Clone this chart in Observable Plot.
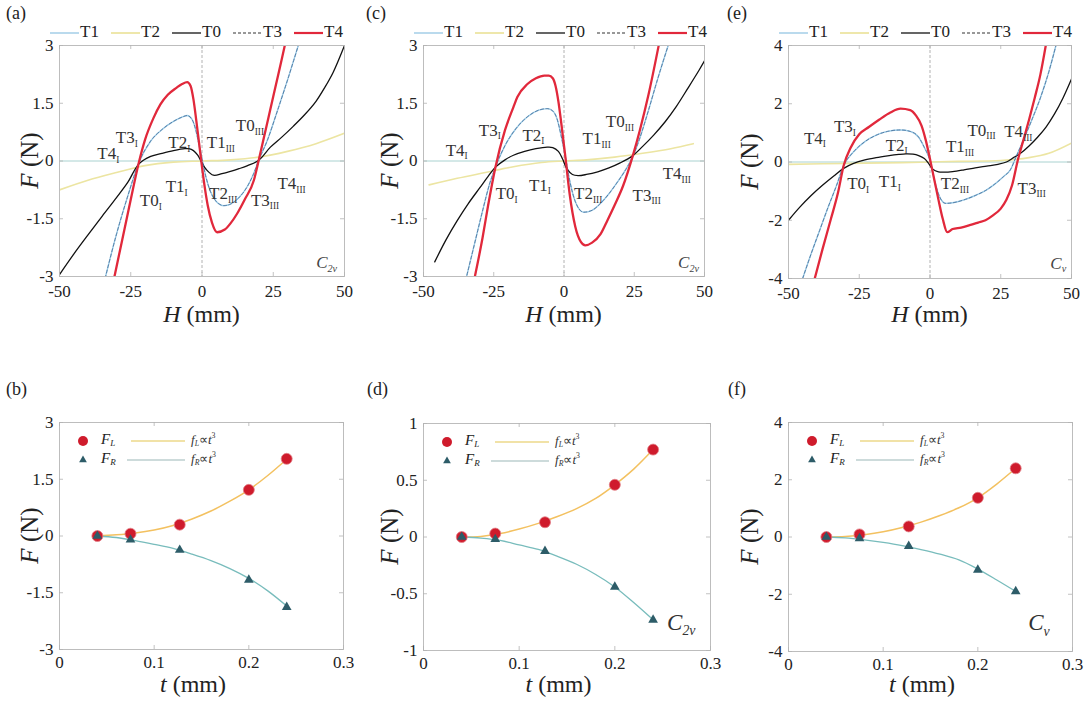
<!DOCTYPE html>
<html><head><meta charset="utf-8">
<script src="https://cdn.jsdelivr.net/npm/d3@7"></script>
<script src="https://cdn.jsdelivr.net/npm/@observablehq/plot@0.6"></script>
<style>
html,body{margin:0;padding:0;background:#fff;}
#root{position:relative;width:1087px;height:704px;overflow:hidden;background:#fff;}
.panel{position:absolute;}
.panel svg{overflow:visible;display:block;}
#overlay{position:absolute;left:0;top:0;pointer-events:none;}
</style></head><body><div id="root"></div>
<script>
// ================= DATA =================
// Top row: F (N) versus H (mm). T1 and T3 coincide (solid + dashed overlay).
const seriesNames = ["T1","T2","T0","T3","T4"];
const xTicksTop = [-50,-25,0,25,50];

// (a) C2v
const aT0H = [-50,-45,-40,-35,-30,-26,-22.2,-18,-14,-10,-6,-4.6,-3,-1.5,0,1.5,4,7,10,13,16,19.9,24,28,32,36,40,43,46,50];
const aT0F = [-2.95,-2.42,-1.92,-1.43,-0.95,-0.55,-0.08,0.12,0.2,0.27,0.32,0.32,0.27,0.15,-0.05,-0.22,-0.37,-0.33,-0.27,-0.2,-0.12,0.02,0.36,0.62,0.9,1.2,1.55,1.9,2.3,3.0];
const aT13H = [-34,-30,-26,-22.2,-18,-14,-10,-7,-5.2,-3.5,-2,-1,0,1.5,3,5,7.7,10,13,16,18,19.9,23,26,30,34];
const aT13F = [-3.05,-1.9,-0.9,-0.05,0.52,0.82,1.03,1.14,1.18,1.08,0.75,0.4,0.05,-0.45,-0.8,-1.05,-1.16,-1.12,-0.95,-0.65,-0.35,0.02,0.55,1.2,2.1,3.05];
const aT4H = [-31,-28,-25,-22.2,-20,-17,-14.6,-12,-9,-7,-5.2,-4,-3,-2,-1,0,1,2,3.5,5.3,8,10,12.3,15,18.2,19.9,22,24,26,28,29.5];
const aT4F = [-3.1,-2.05,-1.0,-0.05,0.55,1.12,1.47,1.72,1.9,2.0,2.05,1.95,1.6,1.05,0.45,-0.15,-0.7,-1.15,-1.6,-1.85,-1.78,-1.62,-1.37,-1.0,-0.5,0.02,0.7,1.35,2.0,2.65,3.15];
const aT2H = [-50,-40,-30,-20,-10,0,10,20,30,40,50];
const aT2F = [-0.75,-0.5,-0.3,-0.12,-0.03,0,0.03,0.1,0.25,0.45,0.72];

// (c) C2v
const cT0H = [-46,-42,-38,-34,-30,-27,-24.4,-21,-18,-14,-10,-6,-4,-2,-0.5,1,3,5,8,12,16,20,24.5,28,32,36,40,44,48,50];
const cT0F = [-2.62,-2.05,-1.55,-1.1,-0.7,-0.4,-0.16,0.03,0.15,0.25,0.32,0.36,0.35,0.25,0.05,-0.2,-0.35,-0.38,-0.35,-0.28,-0.18,-0.05,0.14,0.38,0.68,1.02,1.42,1.88,2.35,2.6];
const cT13H = [-35,-32,-29,-26.5,-24.4,-21,-17,-13,-9,-6,-4,-2.5,-1,0.5,2,4,7,10,13,16,19,22,24.5,27,30,33,37.3];
const cT13F = [-3.1,-2.2,-1.3,-0.6,-0.16,0.4,0.85,1.15,1.32,1.36,1.3,1.1,0.65,0.1,-0.5,-1.05,-1.33,-1.28,-1.1,-0.85,-0.55,-0.22,0.12,0.6,1.3,2.05,3.05];
const cT4H = [-32,-29,-27,-24.4,-21,-18,-16.6,-13,-10,-7,-5.4,-4,-3,-2,-1,0,0.5,2,4,6,7.6,10,13,15.4,18,21,24.5,27,30,33.7];
const cT4F = [-3.1,-2.0,-1.15,-0.16,0.8,1.4,1.66,2.0,2.15,2.22,2.22,2.15,1.95,1.55,1.0,0.4,0.1,-0.85,-1.7,-2.1,-2.19,-2.12,-1.9,-1.55,-1.15,-0.65,0.14,0.8,1.7,3.0];
const cT2H = [-48,-38,-28,-18,-8,0,8,18,28,38,46];
const cT2F = [-0.62,-0.45,-0.3,-0.15,-0.04,0,0.03,0.1,0.2,0.32,0.45];

// (e) Cv
const eT0H = [-50,-46,-42,-38,-34,-30.5,-27,-23,-19,-15,-11,-8.5,-6,-4,-2,-0.5,1,3,5,8,12,16,20,24,27,29.5,32,35,38,41,44,47,50];
const eT0F = [-2.0,-1.55,-1.15,-0.8,-0.48,-0.22,-0.05,0.07,0.15,0.21,0.26,0.28,0.27,0.22,0.12,-0.05,-0.25,-0.34,-0.35,-0.33,-0.27,-0.2,-0.14,-0.08,0.0,0.15,0.3,0.55,0.85,1.2,1.65,2.2,2.85];
const eT13H = [-45,-42,-39,-36,-33,-30.5,-27,-23,-19,-15,-10.4,-7,-4,-2,0,1.5,3,5.5,8,12,16,19.6,23,26,28.5,30.5,33,36,39,42,44.5];
const eT13F = [-4.0,-3.15,-2.35,-1.55,-0.8,-0.12,0.35,0.7,0.92,1.05,1.1,1.05,0.85,0.5,0.05,-0.6,-1.1,-1.42,-1.4,-1.3,-1.15,-0.98,-0.75,-0.5,-0.25,0.2,0.75,1.45,2.2,3.1,4.0];
const eT4H = [-41,-38,-35,-32.5,-30.5,-28,-25,-21.6,-18,-14,-10.4,-7,-5,-3,-1.5,0,1.5,3,4.5,6.1,8,11,14,17,19.6,22,25,27,29,31,33,35,37,39,41];
const eT4F = [-4.1,-3.0,-1.95,-1.05,-0.12,0.5,0.95,1.2,1.45,1.7,1.83,1.78,1.6,1.25,0.75,0.1,-0.6,-1.3,-1.95,-2.41,-2.3,-2.25,-2.17,-2.08,-2.0,-1.85,-1.6,-1.3,-0.8,0.05,0.75,1.45,2.2,3.0,4.05];
const eT2H = [-50,-30,-10,0,10,25,35,42,50];
const eT2F = [-0.08,-0.05,-0.02,0,0.02,0.05,0.15,0.3,0.65];

// equilibrium-point labels: [name, subscript, H, F]
const labA = [["T4","I",-32.7,0.14],["T3","I",-26.2,0.55],["T2","I",-7.8,0.42],["T1","III",6.8,0.42],["T0","III",17,0.86],
  ["T1","I",-8.7,-0.72],["T0","I",-17.8,-1.09],["T2","III",7.6,-0.9],["T3","III",22.3,-1.07],["T4","III",31.6,-0.64]];
const labC = [["T4","I",-38,0.23],["T3","I",-26.2,0.75],["T2","I",-10.7,0.62],["T1","III",11.8,0.53],["T0","III",20.1,0.97],
  ["T1","I",-8.4,-0.68],["T0","I",-20.2,-0.9],["T2","III",8.8,-0.9],["T3","III",29.6,-0.94],["T4","III",40.3,-0.38]];
const labE = [["T4","I",-40.5,0.74],["T3","I",-29.9,1.14],["T2","I",-11.6,0.51],["T1","III",10.8,0.45],["T0","III",18.4,1.02],
  ["T4","III",31.4,0.97],["T0","I",-25.2,-0.81],["T1","I",-14,-0.75],["T2","III",9,-0.81],["T3","III",36.1,-0.98]];

// Bottom row: F (N) versus t (mm)
const tVals = [0.04,0.075,0.127,0.2,0.24];
const bFL = [0,0.06,0.3,1.22,2.04];
const bFR = [0,-0.1,-0.37,-1.16,-1.88];
const dFL = [0,0.03,0.13,0.46,0.77];
const dFR = [0,-0.02,-0.125,-0.44,-0.73];
const fFL = [0,0.09,0.37,1.37,2.4];
const fFR = [0,-0.05,-0.32,-1.15,-1.9];
const fitT  = [0.04,0.06,0.08,0.1,0.12,0.14,0.16,0.18,0.2,0.22,0.24];
const bFitL = [0,0.03,0.08,0.16,0.28,0.45,0.66,0.92,1.22,1.6,2.03];
const bFitR = [0,-0.04,-0.12,-0.22,-0.33,-0.48,-0.65,-0.86,-1.12,-1.45,-1.85];
const dFitL = [0,0.005,0.03,0.07,0.12,0.18,0.25,0.34,0.46,0.6,0.77];
const dFitR = [0,-0.01,-0.03,-0.07,-0.11,-0.17,-0.24,-0.33,-0.44,-0.58,-0.73];
const fFitL = [0,0.02,0.08,0.18,0.33,0.52,0.75,1.02,1.37,1.85,2.4];
const fFitR = [0,-0.03,-0.1,-0.19,-0.3,-0.44,-0.6,-0.8,-1.12,-1.5,-1.9];
const xTicksBot = [0,0.1,0.2,0.3];

// ================= DRAWING =================
const SERIF = '"Liberation Serif","Times New Roman",Times,serif';
const C = {T1:"#9ccbe6", T2:"#ece5a2", T0:"#111111", T3:"#4e76a0", T4:"#e1283b", zero:"#a9d2d0",
  FL:"#cf1b2c", FR:"#2d5c68", fitL:"#f3c160", fitR:"#78bcbc", frame:"#bdbdbd", tick:"#b3b3b3", text:"#222"};
const root = document.getElementById("root");
const pts = (X, Y) => X.map((x, i) => ({x, y: Y[i]}));

function rich(sel, x, y, parts, {size = 17, anchor = "start", fill = C.text, transform = null, subShift = 0.32} = {}) {
  const t = sel.append("text").attr("x", x).attr("y", y).attr("font-size", size).attr("font-family", SERIF)
    .attr("fill", fill).attr("text-anchor", anchor).attr("dominant-baseline", "middle");
  if (transform) t.attr("transform", transform);
  let shift = 0;
  for (const p of parts) {
    const ts = t.append("tspan").text(p.t);
    const target = p.sub ? size * subShift : p.sup ? -size * 0.38 : 0;
    if (target !== shift) { ts.attr("dy", target - shift); shift = target; }
    if (p.sub || p.sup) ts.attr("font-size", size * (p.scale || 0.6));
    if (p.it) ts.attr("font-style", "italic");
  }
  return t;
}

function panel(cfg) {
  const fw = cfg.w - cfg.ml - cfg.mr, fh = cfg.h - cfg.mt - cfg.mb;
  const p = Plot.plot({
    width: cfg.w, height: cfg.h, marginLeft: cfg.ml, marginRight: cfg.mr, marginTop: cfg.mt, marginBottom: cfg.mb,
    x: {domain: cfg.xd}, y: {domain: cfg.yd},
    style: {fontFamily: SERIF, fontSize: "17px", color: C.text, background: "transparent", overflow: "visible"},
    marks: [
      ...cfg.marks,
      Plot.frame({stroke: C.frame, strokeWidth: 1}),
      Plot.ruleX(cfg.xt, {x: d => d, insetTop: fh - 4, stroke: C.tick, strokeWidth: 0.8}),
      Plot.ruleX(cfg.xt, {x: d => d, insetBottom: fh - 4, stroke: C.tick, strokeWidth: 0.8}),
      Plot.ruleY(cfg.yt, {y: d => d, insetRight: fw - 4, stroke: C.tick, strokeWidth: 0.8}),
      Plot.ruleY(cfg.yt, {y: d => d, insetLeft: fw - 4, stroke: C.tick, strokeWidth: 0.8}),
      Plot.axisX({ticks: cfg.xt, tickSize: 0, tickPadding: cfg.xpad, tickFormat: d => String(d), label: null}),
      Plot.axisY({ticks: cfg.yt, tickSize: 0, tickPadding: 6, tickFormat: d => String(d), label: null})
    ]
  });
  const div = document.createElement("div");
  div.className = "panel";
  div.style.left = cfg.left + "px"; div.style.top = cfg.top + "px"; div.style.width = cfg.w + "px";
  div.appendChild(p); root.appendChild(div);
  return {svg: d3.select(p), x: p.scale("x"), y: p.scale("y"), fw, fh, cfg};
}

function topMarks(T0H, T0F, T13H, T13F, T2H, T2F, T4H, T4F) {
  const lo = {x: "x", y: "y", curve: "monotone-x", clip: true};
  const sm = {x: "x", y: "y", curve: "catmull-rom", clip: true};
  return [
    Plot.ruleY([0], {stroke: C.zero, strokeWidth: 1}),
    Plot.ruleX([0], {stroke: "#a0a0a0", strokeWidth: 0.8, strokeDasharray: "3,2"}),
    Plot.line(pts(T2H, T2F), {...sm, stroke: C.T2, strokeWidth: 1.6}),
    Plot.line(pts(T13H, T13F), {...lo, stroke: C.T1, strokeWidth: 1.4}),
    Plot.line(pts(T0H, T0F), {...sm, stroke: C.T0, strokeWidth: 1.3}),
    Plot.line(pts(T13H, T13F), {...lo, stroke: C.T3, strokeWidth: 0.9, strokeDasharray: "3,2.5"}),
    Plot.line(pts(T4H, T4F), {...lo, stroke: C.T4, strokeWidth: 2.3})
  ];
}

const legendStyle = {
  T1: {stroke: C.T1, w: 1.4}, T2: {stroke: C.T2, w: 1.8}, T0: {stroke: C.T0, w: 1.3},
  T3: {stroke: "#333", w: 1.1, dash: "3,2"}, T4: {stroke: C.T4, w: 2.2}
};

function decorateTop(P, labels, symSub, symPos) {
  const {svg, x, y, cfg} = P;
  const lx = cfg.ml - 9, ly = 33;
  seriesNames.forEach((k, i) => {
    const s = legendStyle[k], x0 = lx + i * 61;
    svg.append("line").attr("x1", x0).attr("x2", x0 + 29).attr("y1", ly).attr("y2", ly)
      .attr("stroke", s.stroke).attr("stroke-width", s.w).attr("stroke-dasharray", s.dash || null);
    rich(svg, x0 + 30, ly, [{t: k}], {size: 17});
  });
  labels.forEach(([n, sub, h, f]) => {
    rich(svg, x.apply(h), y.apply(f), [{t: n}, {t: sub, sub: true, scale: 0.55}], {size: 17, anchor: "middle", fill: "#333"});
  });
  rich(svg, x.apply(symPos[0]), y.apply(symPos[1]), [{t: "C", it: true}, {t: symSub, sub: true, it: true, scale: 0.6}], {size: 17, anchor: "middle", fill: "#444"});
  const fcx = cfg.ml + P.fw / 2, fcy = cfg.mt + P.fh / 2;
  rich(svg, fcx, 316, [{t: "H", it: true}, {t: " (mm)"}], {size: 24, anchor: "middle"});
  rich(svg, 0, 0, [{t: "F", it: true}, {t: " (N)"}], {size: 25, anchor: "middle", transform: `translate(32,${fcy}) rotate(-90)`});
}

function decorateBottom(P, symSub, symPos) {
  const {svg, x, y, cfg} = P;
  const fx = cfg.ml, fy = cfg.mt, y1 = fy + 19, y2 = fy + 38;
  const lab = {size: 15, subShift: 0.22};
  svg.append("circle").attr("cx", fx + 24).attr("cy", y1).attr("r", 5).attr("fill", C.FL);
  rich(svg, fx + 42, y1, [{t: "F", it: true}, {t: "L", sub: true, it: true}], lab);
  svg.append("line").attr("x1", fx + 72).attr("x2", fx + 126).attr("y1", y1).attr("y2", y1).attr("stroke", "#ecd98a").attr("stroke-width", 1.4);
  rich(svg, fx + 132, y1, [{t: "f", it: true}, {t: "L", sub: true, it: true}, {t: "∝"}, {t: "t", it: true}, {t: "3", sup: true}], {size: 13, fill: "#333", subShift: 0.22});
  svg.append("path").attr("d", d3.symbol(d3.symbolTriangle, 26)()).attr("transform", `translate(${fx + 24},${y2})`).attr("fill", C.FR);
  rich(svg, fx + 42, y2, [{t: "F", it: true}, {t: "R", sub: true, it: true}], lab);
  svg.append("line").attr("x1", fx + 68).attr("x2", fx + 126).attr("y1", y2).attr("y2", y2).attr("stroke", "#9bb8b8").attr("stroke-width", 1.2);
  rich(svg, fx + 132, y2, [{t: "f", it: true}, {t: "R", sub: true, it: true}, {t: "∝"}, {t: "t", it: true}, {t: "3", sup: true}], {size: 13, fill: "#333", subShift: 0.22});
  if (symSub) rich(svg, x.apply(symPos[0]), y.apply(symPos[1]), [{t: "C", it: true}, {t: symSub, sub: true, it: true, scale: 0.6}], {size: 23, anchor: "middle", fill: "#333"});
  const fcx = cfg.ml + P.fw / 2, fcy = cfg.mt + P.fh / 2;
  rich(svg, fcx - 8, 316, [{t: "t", it: true}, {t: " (mm)"}], {size: 24, anchor: "middle"});
  rich(svg, 0, 0, [{t: "F", it: true}, {t: " (N)"}], {size: 25, anchor: "middle", transform: `translate(32,${fcy}) rotate(-90)`});
}

function bottomMarks(FL, FR, fitL, fitR) {
  return [
    Plot.line(pts(fitT, fitL), {x: "x", y: "y", curve: "catmull-rom", stroke: C.fitL, strokeWidth: 1.5}),
    Plot.line(pts(fitT, fitR), {x: "x", y: "y", curve: "catmull-rom", stroke: C.fitR, strokeWidth: 1.3}),
    Plot.dot(pts(tVals, FL), {x: "x", y: "y", r: 5.5, fill: C.FL, stroke: "#e27f86", strokeWidth: 0.8}),
    Plot.dot(pts(tVals, FR), {x: "x", y: "y", r: 3.6, symbol: "triangle", fill: C.FR})
  ];
}

// ---- Top panels ----
const PA = panel({left: 0, top: 0, w: 360, h: 330, ml: 59, mr: 16, mt: 45, mb: 54, xd: [-50, 50], yd: [-3, 3],
  xt: xTicksTop, yt: [-3, -1.5, 0, 1.5, 3], xpad: 8, marks: topMarks(aT0H, aT0F, aT13H, aT13F, aT2H, aT2F, aT4H, aT4F)});
decorateTop(PA, labA, "2v", [43.9, -2.69]);

const PC = panel({left: 360, top: 0, w: 360, h: 330, ml: 63, mr: 16, mt: 45, mb: 54, xd: [-50, 50], yd: [-3, 3],
  xt: xTicksTop, yt: [-3, -1.5, 0, 1.5, 3], xpad: 8, marks: topMarks(cT0H, cT0F, cT13H, cT13F, cT2H, cT2F, cT4H, cT4F)});
decorateTop(PC, labC, "2v", [44.5, -2.69]);

const PE = panel({left: 720, top: 0, w: 367, h: 330, ml: 68, mr: 16, mt: 45, mb: 52, xd: [-50, 50], yd: [-4, 4],
  xt: xTicksTop, yt: [-4, -2, 0, 2, 4], xpad: 8, marks: topMarks(eT0H, eT0F, eT13H, eT13F, eT2H, eT2F, eT4H, eT4F)});
decorateTop(PE, labE, "v", [45.5, -3.55]);

// ---- Bottom panels ----
const PB = panel({left: 0, top: 370, w: 360, h: 334, ml: 59, mr: 17, mt: 52, mb: 55, xd: [0, 0.3], yd: [-3, 3],
  xt: xTicksBot, yt: [-3, -1.5, 0, 1.5, 3], xpad: 6, marks: bottomMarks(bFL, bFR, bFitL, bFitR)});
decorateBottom(PB, null, null);

const PD = panel({left: 360, top: 370, w: 370, h: 334, ml: 63, mr: 20, mt: 53, mb: 54, xd: [0, 0.3], yd: [-1, 1],
  xt: xTicksBot, yt: [-1, -0.5, 0, 0.5, 1], xpad: 6, marks: bottomMarks(dFL, dFR, dFitL, dFitR)});
decorateBottom(PD, "2v", [0.27, -0.78]);

const PF = panel({left: 720, top: 370, w: 367, h: 334, ml: 68, mr: 15, mt: 52, mb: 53, xd: [0, 0.3], yd: [-4, 4],
  xt: xTicksBot, yt: [-4, -2, 0, 2, 4], xpad: 6, marks: bottomMarks(fFL, fFR, fFitL, fFitR)});
decorateBottom(PF, "v", [0.265, -3.1]);

// ---- panel letters ----
const ov = d3.select(root).append("svg").attr("id", "overlay").attr("width", 1087).attr("height", 704);
[["(a)", 6, 15], ["(c)", 366, 15], ["(e)", 727, 15], ["(b)", 6, 391], ["(d)", 367, 391], ["(f)", 728, 391]]
  .forEach(([t, x, y]) => rich(ov, x, y, [{t}], {size: 18}));
</script></body></html>
